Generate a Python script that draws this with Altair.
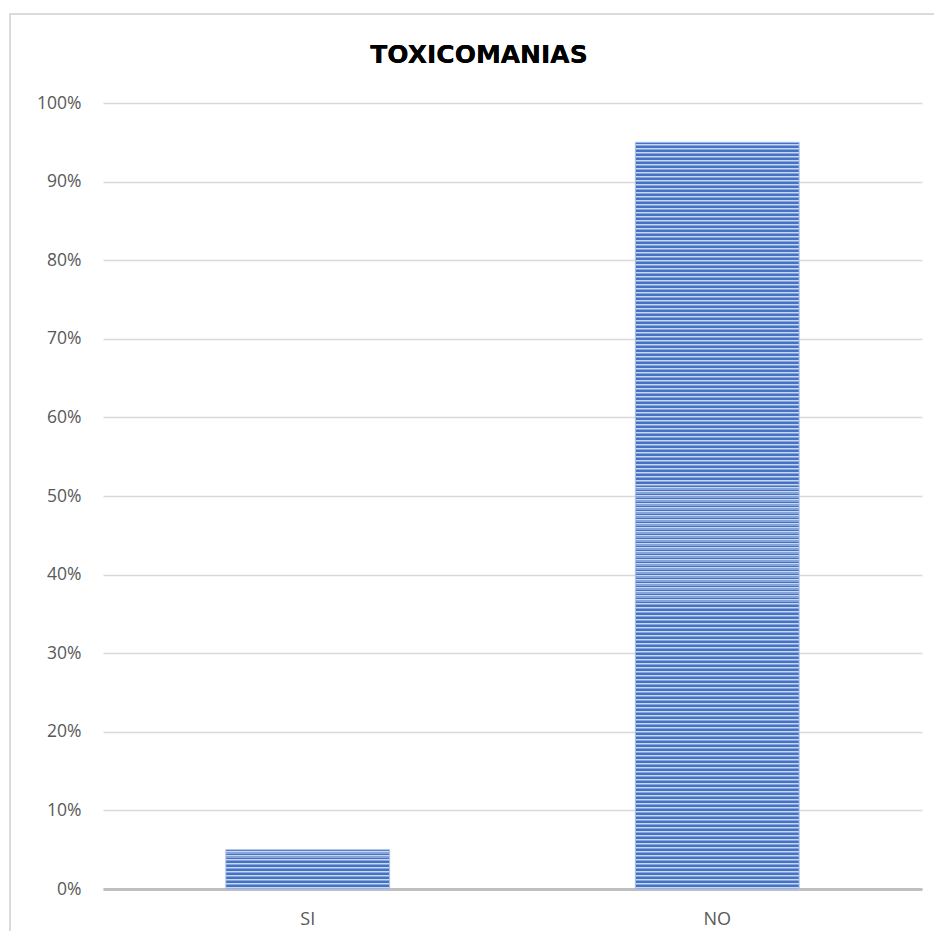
import altair as alt
import pandas as pd

categories = ["SI", "NO"]
values = [0.05, 0.95]
y_ticks = [0, 0.1, 0.2, 0.3, 0.4, 0.5, 0.6, 0.7, 0.8, 0.9, 1.0]
title_text = "TOXICOMANIAS"

W, H = 819, 786
df = pd.DataFrame({"cat": categories, "val": values})

DARK = "#4472C4"
LIGHT = "#C9D7F0"
MID = "#86A3DA"


def stripes(frac):
    px = frac * H
    n = max(1, round(px / 4))
    stops = []
    pattern = [(DARK, 0.0, 0.45), (LIGHT, 0.45, 0.7), (MID, 0.7, 1.0)]
    for i in range(n):
        for col, a, b in pattern:
            o1 = (i + a) / n
            o2 = (i + b) / n
            stops.append(alt.GradientStop(offset=min(o1, 1.0), color=col))
            stops.append(alt.GradientStop(offset=min(o2, 1.0), color=col))
    return alt.LinearGradient(gradient="linear", stops=stops, x1=0, x2=0, y1=0, y2=1)


x_enc = alt.X(
    "cat:N",
    sort=categories,
    title=None,
    scale=alt.Scale(paddingInner=0.6, paddingOuter=0.3),
    axis=alt.Axis(
        labelAngle=0,
        labelFont="Open Sans",
        labelFontSize=18,
        labelColor="#595959",
        labelPadding=21,
        ticks=False,
        domain=True,
        domainColor="#BFBFBF",
        domainWidth=3,
        grid=False,
    ),
)
y_enc = alt.Y(
    "val:Q",
    title=None,
    scale=alt.Scale(domain=[0, 1], nice=False),
    axis=alt.Axis(
        values=y_ticks,
        format=".0%",
        labelFont="Open Sans",
        labelFontSize=17.5,
        labelColor="#595959",
        labelPadding=22,
        ticks=False,
        domain=False,
        grid=True,
        gridColor="#D9D9D9",
        gridWidth=1.3,
    ),
)

border = alt.Chart(df).mark_rect(
    filled=False, stroke="#D9D9D9", strokeWidth=1.5
).encode(
    x=alt.value(-93), x2=alt.value(W + 60),
    y=alt.value(-89), y2=alt.value(H + 80),
)

title = alt.Chart(df).mark_text(
    text=title_text,
    font="DejaVu Sans",
    fontSize=25,
    fontWeight="bold",
    color="#000000",
    align="center",
    baseline="alphabetic",
).encode(x=alt.value(376), y=alt.value(-40))

layers = [border, title]
for c, v in zip(categories, values):
    layers.append(
        alt.Chart(df)
        .transform_filter(alt.datum.cat == c)
        .mark_bar(color=stripes(v), stroke="#A9BFE6", strokeWidth=1)
        .encode(x=x_enc, y=y_enc)
    )

chart = (
    alt.layer(*layers)
    .properties(
        width=W,
        height=H,
        padding={"left": 95, "top": 95, "right": 12, "bottom": 42},
        autosize=alt.AutoSizeParams(type="none"),
    )
    .configure_view(stroke=None)
)

chart.save("out.html", embed_options={"renderer": "svg", "actions": False})
